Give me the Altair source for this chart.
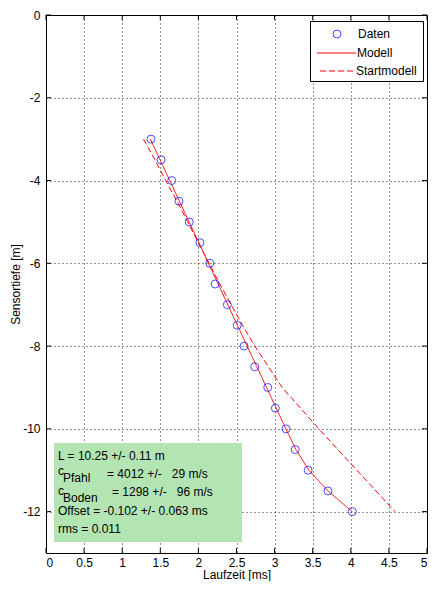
import altair as alt
import pandas as pd

# ---- data ----
depth = [-3, -3.5, -4, -4.5, -5, -5.5, -6, -6.5, -7, -7.5, -8, -8.5, -9, -9.5,
         -10, -10.5, -11, -11.5, -12]
t_data = [1.377, 1.51, 1.65, 1.745, 1.88, 2.02, 2.15, 2.22, 2.38, 2.51, 2.60,
          2.74, 2.91, 3.01, 3.15, 3.27, 3.44, 3.70, 4.02]
t_model = [1.37, 1.497, 1.624, 1.751, 1.878, 2.005, 2.132, 2.259, 2.386, 2.513,
           2.64, 2.767, 2.894, 3.021, 3.148, 3.28, 3.45, 3.70, 4.02]
t_start = [1.28, 1.43, 1.57, 1.72, 1.86, 2.00, 2.14, 2.28, 2.43, 2.58, 2.74,
           2.92, 3.10, 3.34, 3.58, 3.83, 4.08, 4.33, 4.58]
x_ticks = [0, 0.5, 1, 1.5, 2, 2.5, 3, 3.5, 4, 4.5, 5]
y_ticks = [0, -2, -4, -6, -8, -10, -12]
series = ["Daten", "Modell", "Startmodell"]
NB = "\u00a0"
info_L = "L = 10.25 +/- 0.11 m"
info_cp = "= 4012 +/-" + NB * 3 + "29 m/s"
info_cb = "= 1298 +/-" + NB * 3 + "96 m/s"
info_off = "Offset = -0.102 +/- 0.063 ms"
info_rms = "rms = 0.011"

W, H = 381, 538
FONT = "Liberation Sans"
FS = 12
RED = "#ff0000"
BLUE = "#0000ff"

df_pts = pd.DataFrame({"t": t_data, "z": depth, "series": series[0]})
df_lines = pd.concat([
    pd.DataFrame({"t": t_model, "z": depth, "series": series[1], "i": range(len(depth))}),
    pd.DataFrame({"t": t_start, "z": depth, "series": series[2], "i": range(len(depth))}),
])
one = pd.DataFrame({"k": [0]})

xs = alt.Scale(domain=[0, 5], nice=False, zero=False)
ys = alt.Scale(domain=[-13, 0], nice=False, zero=False)
dash_sc = alt.Scale(domain=series[1:], range=[[1, 0], [6, 3]])

x_axis = alt.Axis(values=x_ticks, labelExpr="'' + datum.value", grid=True,
                  gridColor="black", gridDash=[1, 3], gridOpacity=0.85,
                  ticks=False, domain=False, labelPadding=4, labelOverlap=False,
                  title="Laufzeit [ms]", titlePadding=1)
y_axis = alt.Axis(values=y_ticks, labelExpr="'' + datum.value", grid=True,
                  gridColor="black", gridDash=[1, 3], gridOpacity=0.85,
                  ticks=False, domain=False, labelPadding=6, labelOverlap=False,
                  title="Sensortiefe [m]", titlePadding=0)


def X(field):
    return alt.X(field, scale=xs, axis=x_axis)


def Y(field):
    return alt.Y(field, scale=ys, axis=y_axis)


base_grid = alt.Chart(df_pts).mark_point(opacity=0).encode(
    x=X("t:Q"),
    y=Y("z:Q"),
)

# info box
box = alt.Chart(one).mark_rect().encode(
    x=alt.value(8), x2=alt.value(196), y=alt.value(428), y2=alt.value(527),
    color=alt.value("#b3e5b3"))


def txt(s, x, y, size=FS):
    return alt.Chart(one).mark_text(text=s, align="left", baseline="middle",
                                    font=FONT, fontSize=size).encode(
        x=alt.value(x), y=alt.value(y), color=alt.value("black"))


texts = [
    txt(info_L, 12, 441),
    txt("c", 12, 456), txt("Pfahl", 17, 463), txt(info_cp, 61, 459),
    txt("c", 12, 476), txt("Boden", 17, 483), txt(info_cb, 66, 477),
    txt(info_off, 12, 496),
    txt(info_rms, 12, 514),
]

lines = alt.Chart(df_lines).mark_line(strokeWidth=1).encode(
    x=X("t:Q"),
    y=Y("z:Q"),
    color=alt.value(RED),
    strokeDash=alt.StrokeDash("series:N", legend=None, scale=dash_sc),
    order="i:Q",
)

pts = alt.Chart(df_pts).mark_point(filled=False, strokeWidth=1, size=64,
                                   shape="circle").encode(
    x=X("t:Q"),
    y=Y("z:Q"),
    color=alt.value(BLUE),
)

# legend (box placed near the top-right corner of the plot)
LX = W - 117
leg_box = alt.Chart(one).mark_rect(strokeWidth=1).encode(
    x=alt.value(LX + 0.5), x2=alt.value(LX + 113.5), y=alt.value(6.5), y2=alt.value(66.5),
    fill=alt.value("white"), stroke=alt.value("black"))
leg_pt = alt.Chart(one).mark_point(filled=False, strokeWidth=1, size=64,
                                   shape="circle").encode(
    x=alt.value(LX + 27), y=alt.value(19), color=alt.value(BLUE))
leg_l1 = alt.Chart(one).mark_rule(strokeWidth=1).encode(
    x=alt.value(LX + 7), x2=alt.value(LX + 46), y=alt.value(38),
    color=alt.value(RED))
leg_l2 = alt.Chart(one).mark_rule(strokeWidth=1).encode(
    x=alt.value(LX + 10), x2=alt.value(LX + 45), y=alt.value(56),
    color=alt.value(RED), strokeDash=alt.value([6, 3]))
leg_txt = [txt(series[0], LX + 48, 19), txt(series[1], LX + 47, 38),
           txt(series[2], LX + 46, 56)]

df_xt = pd.DataFrame({"t": x_ticks})
df_yt = pd.DataFrame({"z": y_ticks})
tick_b = alt.Chart(df_xt).mark_rule().encode(
    x=X("t:Q"), y=alt.value(H), y2=alt.value(H - 5), color=alt.value("black"))
tick_t = alt.Chart(df_xt).mark_rule().encode(
    x=X("t:Q"), y=alt.value(0), y2=alt.value(5), color=alt.value("black"))
tick_l = alt.Chart(df_yt).mark_rule().encode(
    y=Y("z:Q"), x=alt.value(0), x2=alt.value(5), color=alt.value("black"))
tick_r = alt.Chart(df_yt).mark_rule().encode(
    y=Y("z:Q"), x=alt.value(W), x2=alt.value(W - 5), color=alt.value("black"))

chart = alt.layer(base_grid, box, *texts, tick_b, tick_t, tick_l, tick_r,
                  lines, pts, leg_box, leg_pt, leg_l1, leg_l2, *leg_txt).properties(
    width=W, height=H,
    autosize=alt.AutoSizeParams(type="none"),
    padding={"left": 38, "top": 7, "right": 1, "bottom": 28},
).configure_view(stroke="black", strokeWidth=1).configure_axis(
    labelFont=FONT, labelFontSize=FS, labelColor="black", labelOverlap=False,
    titleFont=FONT, titleFontSize=FS, titleColor="black", titleFontWeight="normal",
)

chart.save("out.html", embed_options={"renderer": "svg", "actions": False})
